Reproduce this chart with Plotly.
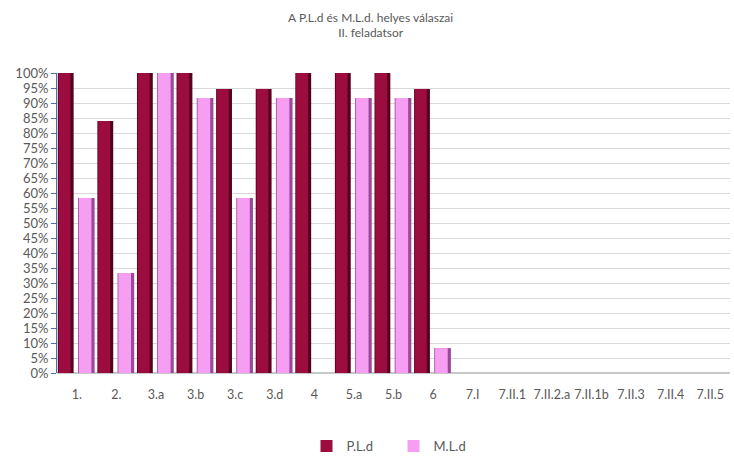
import plotly.graph_objects as go

categories = ["1.", "2.", "3.a", "3.b", "3.c", "3.d", "4", "5.a", "5.b", "6",
              "7.I", "7.II.1", "7.II.2.a", "7.II.1b", "7.II.3", "7.II.4", "7.II.5"]
pld = [100, 84, 100, 100, 94.7, 94.7, 100, 100, 100, 94.7,
       None, None, None, None, None, None, None]
mld = [58.3, 33.3, 100, 91.7, 58.3, 91.7, None, 91.7, 91.7, 8.3,
       None, None, None, None, None, None, None]

font_family = "Lato, 'Open Sans', sans-serif"
text_color = "#595959"

fig = go.Figure()

# P.L.d: dark shaded body with a brighter face shifted to the left
fig.add_trace(go.Bar(x=categories, y=pld, name="P.L.d", offset=-0.48, width=0.40,
                     marker=dict(color="#560020", line=dict(width=0)),
                     showlegend=False, legendgroup="p", hoverinfo="skip"))
fig.add_trace(go.Bar(x=categories, y=pld, name="P.L.d", offset=-0.46, width=0.30,
                     marker=dict(color="#9C0C3F", line=dict(width=0)),
                     showlegend=True, legendgroup="p"))

# M.L.d: purple shaded body with a pink face shifted to the left
fig.add_trace(go.Bar(x=categories, y=mld, name="M.L.d", offset=0.03, width=0.42,
                     marker=dict(color="#9A4A9A", line=dict(width=0)),
                     showlegend=False, legendgroup="m", hoverinfo="skip"))
fig.add_trace(go.Bar(x=categories, y=mld, name="M.L.d", offset=0.05, width=0.32,
                     marker=dict(color="#F59EF2", line=dict(width=0)),
                     showlegend=True, legendgroup="m"))

fig.update_layout(
    width=734, height=456,
    margin=dict(l=57, r=4, t=73, b=83, autoexpand=False),
    barmode="overlay",
    paper_bgcolor="white", plot_bgcolor="white",
    font=dict(family=font_family, color=text_color, size=13),
    title=dict(
        text="A P.L.d és M.L.d. helyes válaszai<br>II. feladatsor",
        x=0.505, xanchor="center", yref="container", y=0.952, yanchor="middle",
        font=dict(size=12, color=text_color, family=font_family),
    ),
    legend=dict(orientation="h", x=0.5, xanchor="center",
                yref="container", y=0.022, yanchor="middle",
                font=dict(size=13, color=text_color),
                itemwidth=30, entrywidth=42, entrywidthmode="pixels",
                traceorder="normal"),
    showlegend=True,
)

fig.update_xaxes(
    type="category", categoryorder="array", categoryarray=categories,
    range=[-0.5, len(categories) - 0.5],
    showgrid=False, showline=False, zeroline=False,
    ticks="", ticklabelstandoff=12, tickangle=0,
    tickfont=dict(size=12.5, color=text_color),
)

fig.update_yaxes(
    range=[0, 100], dtick=5, ticksuffix="%",
    showgrid=True, gridcolor="#D9D9D9", gridwidth=1,
    showline=True, linecolor="#4A6DB3", linewidth=1,
    ticks="outside", ticklen=5, tickcolor="#4A6DB3",
    zeroline=True, zerolinecolor="#C8C8C8",
    tickfont=dict(size=13, color=text_color),
)

fig.write_html("out.html")
